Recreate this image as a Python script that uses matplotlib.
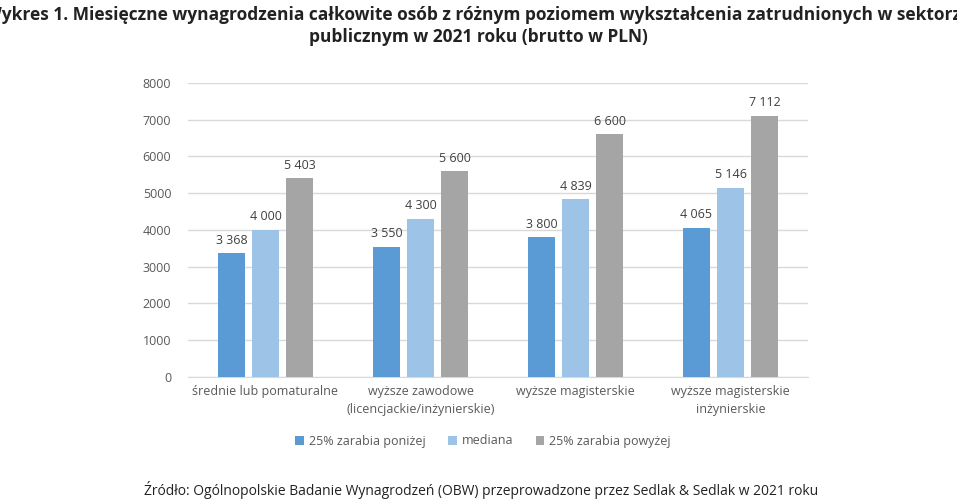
"""Monthly total pay by education level, public sector 2021."""

import matplotlib.pyplot as plt
import numpy as np

categories = [
    "średnie lub pomaturalne",
    "wyższe zawodowe\n(licencjackie/inżynierskie)",
    "wyższe magisterskie",
    "wyższe magisterskie\ninżynierskie",
]
series_names = ["25% zarabia poniżej", "mediana", "25% zarabia powyżej"]
low_quartile = [3368, 3550, 3800, 4065]
median = [4000, 4300, 4839, 5146]
high_quartile = [5403, 5600, 6600, 7112]
y_ticks = [0, 1000, 2000, 3000, 4000, 5000, 6000, 7000, 8000]

colors = ["#5B9BD5", "#9DC3E6", "#A5A5A5"]
plt.rcParams["font.family"] = ["Open Sans", "DejaVu Sans"]

fig = plt.figure(figsize=(9.57, 5.03), dpi=100)
ax = fig.add_axes([0.1964, 0.2505, 0.648, 0.5845])

x = np.arange(len(categories))
width = 0.174
step = 0.22
for i, (vals, name) in enumerate(zip([low_quartile, median, high_quartile], series_names)):
    pos = x + (i - 1) * step
    ax.bar(pos, vals, width=width, color=colors[i], label=name, zorder=3)
    for px, v in zip(pos, vals):
        ax.text(px, v + 180, f"{v:,}".replace(",", " "), ha="center", va="bottom",
                fontsize=9, color="#404040")

ax.set_xlim(-0.5, len(categories) - 0.5)
ax.set_ylim(0, 8000)
ax.set_yticks(y_ticks)
ax.set_yticklabels([str(t) for t in y_ticks], fontsize=9, color="#595959")
ax.set_xticks(x)
ax.set_xticklabels(categories, fontsize=9, color="#595959", linespacing=1.5)
ax.tick_params(axis="both", length=0, pad=12)
ax.tick_params(axis="x", pad=6)
ax.yaxis.grid(True, color="#D9D9D9", linewidth=1, zorder=0)
for side in ["top", "right", "left"]:
    ax.spines[side].set_visible(False)
ax.spines["bottom"].set_color("#D9D9D9")

fig.legend(loc="center", bbox_to_anchor=(483 / 957, 1 - 441 / 503), ncol=3,
           frameon=False, fontsize=9, handlelength=0.7, handleheight=0.7,
           handletextpad=0.4, columnspacing=1.8, labelcolor="#595959")

fig.text(0.5, 1 - 15 / 503,
         "Wykres 1. Miesięczne wynagrodzenia całkowite osób z różnym poziomem "
         "wykształcenia zatrudnionych w sektorze",
         ha="center", va="center", fontsize=12.5, fontweight="bold", color="#222222")
fig.text(0.5, 1 - 37 / 503, "publicznym w 2021 roku (brutto w PLN)",
         ha="center", va="center", fontsize=12.5, fontweight="bold", color="#222222")
fig.text(481 / 957, 1 - 490 / 503,
         "Źródło: Ogólnopolskie Badanie Wynagrodzeń (OBW) przeprowadzone przez "
         "Sedlak & Sedlak w 2021 roku",
         ha="center", va="center", fontsize=10, color="#222222")

fig.savefig("out.png", dpi=100)
